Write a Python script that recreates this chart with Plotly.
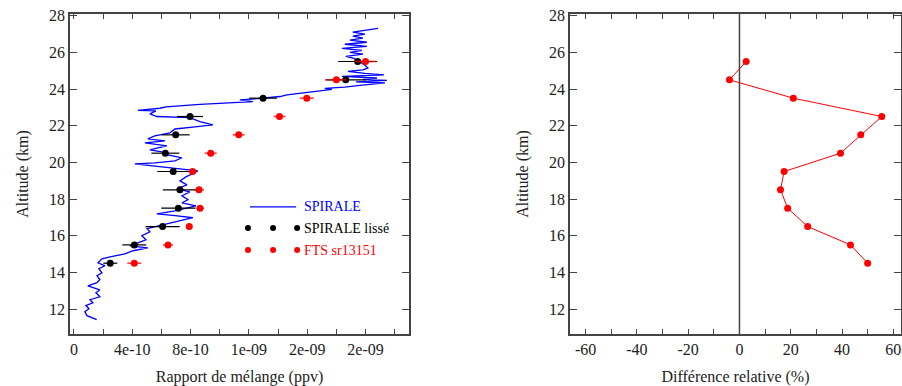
import plotly.graph_objects as go

# ---- SPIRALE high-resolution profile (altitude km, mixing ratio ppv) ----
spirale_alt = [11.42, 11.64, 11.86, 12.02, 12.19, 12.34, 12.51, 12.67, 12.89, 13.05,
               13.27, 13.44, 13.61, 13.82, 13.98, 14.20, 14.36, 14.52, 14.74, 14.85,
               15.01, 15.18, 15.34, 15.45, 15.61, 15.78, 16.00, 16.21, 16.38, 16.54,
               16.76, 16.98, 17.09, 17.19, 17.36, 17.52, 17.63, 17.79, 17.96, 18.18,
               18.39, 18.56, 18.77, 18.99, 19.21, 19.53, 19.64, 19.75, 19.92, 19.97,
               20.08, 20.25, 20.41, 20.57, 20.68, 20.79, 20.90, 21.06, 21.17, 21.28,
               21.44, 21.61, 21.82, 21.93, 22.04, 22.22, 22.44, 22.50, 22.64, 22.81,
               22.83, 22.95, 23.02, 23.16, 23.31, 23.41, 23.46, 23.59, 23.68, 23.90,
               23.98, 24.03, 24.10, 24.20, 24.33, 24.39, 24.47, 24.52, 24.60, 24.69,
               24.77, 24.85, 24.96, 25.04, 25.15, 25.31, 25.49, 25.67, 25.78, 25.90,
               26.00, 26.11, 26.22, 26.33, 26.44, 26.55, 26.66, 26.77, 26.88, 26.99,
               27.10, 27.20, 27.31]
spirale_vmr = [1.56e-10, 0.89e-10, 0.75e-10, 1.03e-10, 0.82e-10, 1.30e-10, 1.10e-10, 1.78e-10, 1.51e-10, 1.78e-10,
               0.96e-10, 1.58e-10, 1.78e-10, 1.58e-10, 1.92e-10, 1.71e-10, 2.13e-10, 1.65e-10, 1.92e-10, 2.47e-10,
               3.50e-10, 4.05e-10, 5.07e-10, 3.84e-10, 4.39e-10, 4.94e-10, 4.66e-10, 5.21e-10, 5.01e-10, 5.90e-10,
               7.13e-10, 8.16e-10, 6.93e-10, 5.69e-10, 6.93e-10, 7.82e-10, 8.37e-10, 7.41e-10, 7.82e-10, 7.41e-10,
               7.95e-10, 7.06e-10, 7.75e-10, 7.27e-10, 7.68e-10, 8.50e-10, 7.27e-10, 6.24e-10, 4.18e-10, 5.55e-10,
               6.93e-10, 7.41e-10, 6.45e-10, 6.03e-10, 5.21e-10, 5.76e-10, 6.38e-10, 4.87e-10, 6.24e-10, 5.07e-10,
               5.55e-10, 6.58e-10, 6.93e-10, 8.30e-10, 9.53e-10, 8.64e-10, 7.95e-10, 5.69e-10, 5.21e-10, 5.62e-10,
               4.39e-10, 5.90e-10, 6.31e-10, 8.64e-10, 12.27e-10, 11.38e-10, 12.41e-10, 14.13e-10, 14.61e-10, 16.87e-10,
               17.69e-10, 17.21e-10, 18.58e-10, 19.61e-10, 21.33e-10, 19.34e-10, 21.46e-10, 19.82e-10, 20.78e-10, 18.38e-10,
               21.26e-10, 19.95e-10, 18.79e-10, 19.82e-10, 20.16e-10, 19.95e-10, 19.61e-10, 19.20e-10, 18.65e-10, 19.82e-10,
               18.93e-10, 19.75e-10, 18.38e-10, 20.09e-10, 18.58e-10, 20.09e-10, 18.93e-10, 19.82e-10, 19.13e-10, 19.95e-10,
               19.13e-10, 20.09e-10, 20.85e-10]

# ---- 1 km smoothed SPIRALE and FTS ----
layer_alt = [14.5, 15.5, 16.5, 17.5, 18.5, 19.5, 20.5, 21.5, 22.5, 23.5, 24.5, 25.5]
smooth_vmr = [2.49e-10, 4.14e-10, 6.08e-10, 7.16e-10, 7.27e-10, 6.81e-10,
              6.27e-10, 6.98e-10, 7.96e-10, 12.97e-10, 18.64e-10, 19.46e-10]
smooth_err = [0.48e-10, 0.82e-10, 1.17e-10, 1.17e-10, 1.17e-10, 1.10e-10,
              0.96e-10, 0.96e-10, 0.89e-10, 0.96e-10, 1.40e-10, 1.34e-10]
fts_vmr = [4.14e-10, 6.45e-10, 7.91e-10, 8.65e-10, 8.58e-10, 8.14e-10,
           9.38e-10, 11.30e-10, 14.10e-10, 15.97e-10, 18.00e-10, 20.00e-10]
fts_err = [0.48e-10, 0.34e-10, 0.20e-10, 0.27e-10, 0.34e-10, 0.27e-10,
           0.41e-10, 0.41e-10, 0.41e-10, 0.48e-10, 0.65e-10, 0.75e-10]

# ---- relative difference (%) ----
rel_diff = [50.0, 43.3, 26.6, 18.8, 16.0, 17.4, 39.4, 47.3, 55.5, 21.0, -3.9, 2.6]

# ---- tick labels ----
x1_tickvals = [0, 4e-10, 8e-10, 1.2e-9, 1.6e-9, 2.0e-9]
x1_ticktext = ["0", "4e-10", "8e-10", "1e-09", "2e-09", "2e-09"]
x2_tickvals = [-60, -40, -20, 0, 20, 40, 60]
x2_ticktext = ["-60", "-40", "-20", "0", "20", "40", "60"]
y_tickvals = [12, 14, 16, 18, 20, 22, 24, 26, 28]

FONT = "Times New Roman, Liberation Serif, DejaVu Serif, serif"
AXC = "#444444"

fig = go.Figure()

fig.add_trace(go.Scatter(x=spirale_vmr, y=spirale_alt, mode="lines",
                         line=dict(color="#0000ff", width=1.3),
                         xaxis="x", yaxis="y", showlegend=False))
fig.add_trace(go.Scatter(x=smooth_vmr, y=layer_alt, mode="markers",
                         marker=dict(color="black", size=7),
                         error_x=dict(type="data", array=smooth_err, color="black",
                                      thickness=1.2, width=0),
                         xaxis="x", yaxis="y", showlegend=False))
fig.add_trace(go.Scatter(x=fts_vmr, y=layer_alt, mode="markers",
                         marker=dict(color="#ff0000", size=7),
                         error_x=dict(type="data", array=fts_err, color="rgba(255,0,0,0.75)",
                                      thickness=1.6, width=0),
                         xaxis="x", yaxis="y", showlegend=False))

fig.add_trace(go.Scatter(x=rel_diff, y=layer_alt, mode="lines+markers",
                         line=dict(color="#ff0000", width=1),
                         marker=dict(color="#ff0000", size=7),
                         xaxis="x2", yaxis="y2", showlegend=False))

yr = [10.64, 28.09]
common_axis = dict(showline=True, mirror="allticks", linecolor=AXC, linewidth=1.5,
                   ticks="inside", tickcolor=AXC, tickwidth=1.2, showgrid=False,
                   zeroline=False, automargin=False,
                   tickfont=dict(family=FONT, size=16, color="#222222"),
                   title_font=dict(family=FONT, size=16, color="#222222"))

fig.update_layout(
    width=902, height=386,
    margin=dict(l=0, r=0, t=14, b=52),
    plot_bgcolor="white", paper_bgcolor="white",
    font=dict(family=FONT, color="#222222"),
    xaxis=dict(domain=[70 / 902, 409 / 902], range=[-0.27e-10, 2.298e-9],
               tickmode="array", tickvals=x1_tickvals, ticktext=x1_ticktext, ticklen=5,
               minor=dict(dtick=2e-10, tick0=0, ticks="inside", ticklen=5,
                          tickcolor=AXC, tickwidth=1.2),
               title=dict(text="Rapport de mélange (ppv)", standoff=16),
               anchor="y", **common_axis),
    yaxis=dict(domain=[0, 1], range=yr, tickmode="array", tickvals=y_tickvals, ticklen=7,
               title=dict(text="Altitude (km)", standoff=16),
               anchor="x", **common_axis),
    xaxis2=dict(domain=[570 / 902, 901 / 902], range=[-66.1, 63.0],
                tickmode="array", tickvals=x2_tickvals, ticktext=x2_ticktext, ticklen=5,
                minor=dict(dtick=10, tick0=0, ticks="inside", ticklen=5,
                           tickcolor=AXC, tickwidth=1.2),
                title=dict(text="Différence relative (%)", standoff=16),
                anchor="y2", **common_axis),
    yaxis2=dict(domain=[0, 1], range=yr, tickmode="array", tickvals=y_tickvals, ticklen=7,
                title=dict(text="Altitude (km)", standoff=16),
                anchor="x2", **common_axis),
)

shapes = []
# zero line on right panel
shapes.append(dict(type="line", xref="x2", yref="y2 domain", x0=0, x1=0, y0=0, y1=1,
                   line=dict(color=AXC, width=1.5), layer="below"))
# manual legend
shapes.append(dict(type="line", xref="x domain", yref="y domain",
                   x0=0.531, x1=0.667, y0=0.397, y1=0.397,
                   line=dict(color="#0000ff", width=1.3)))
for yy, col in [(0.331, "black"), (0.2625, "#ff0000")]:
    for xx in [0.525, 0.599, 0.670]:
        shapes.append(dict(type="circle", xref="x domain", yref="y domain",
                           xsizemode="pixel", ysizemode="pixel", xanchor=xx, yanchor=yy,
                           x0=-3, x1=3, y0=-3, y1=3,
                           fillcolor=col, line=dict(color=col, width=0)))
fig.update_layout(shapes=shapes)

annotations = []
for yy, txt, col in [(0.397, "SPIRALE", "#0000ff"), (0.331, "SPIRALE lissé", "black"),
                     (0.2625, "FTS sr13151", "#ff0000")]:
    annotations.append(dict(xref="x domain", yref="y domain", x=0.684, y=yy, text=txt,
                            showarrow=False, xanchor="left", yanchor="middle",
                            font=dict(family=FONT, size=14, color=col)))
fig.update_layout(annotations=annotations)

fig.write_html("out.html", config={"displayModeBar": False},
               post_script="document.body.style.margin='0';document.body.style.padding='0';")
